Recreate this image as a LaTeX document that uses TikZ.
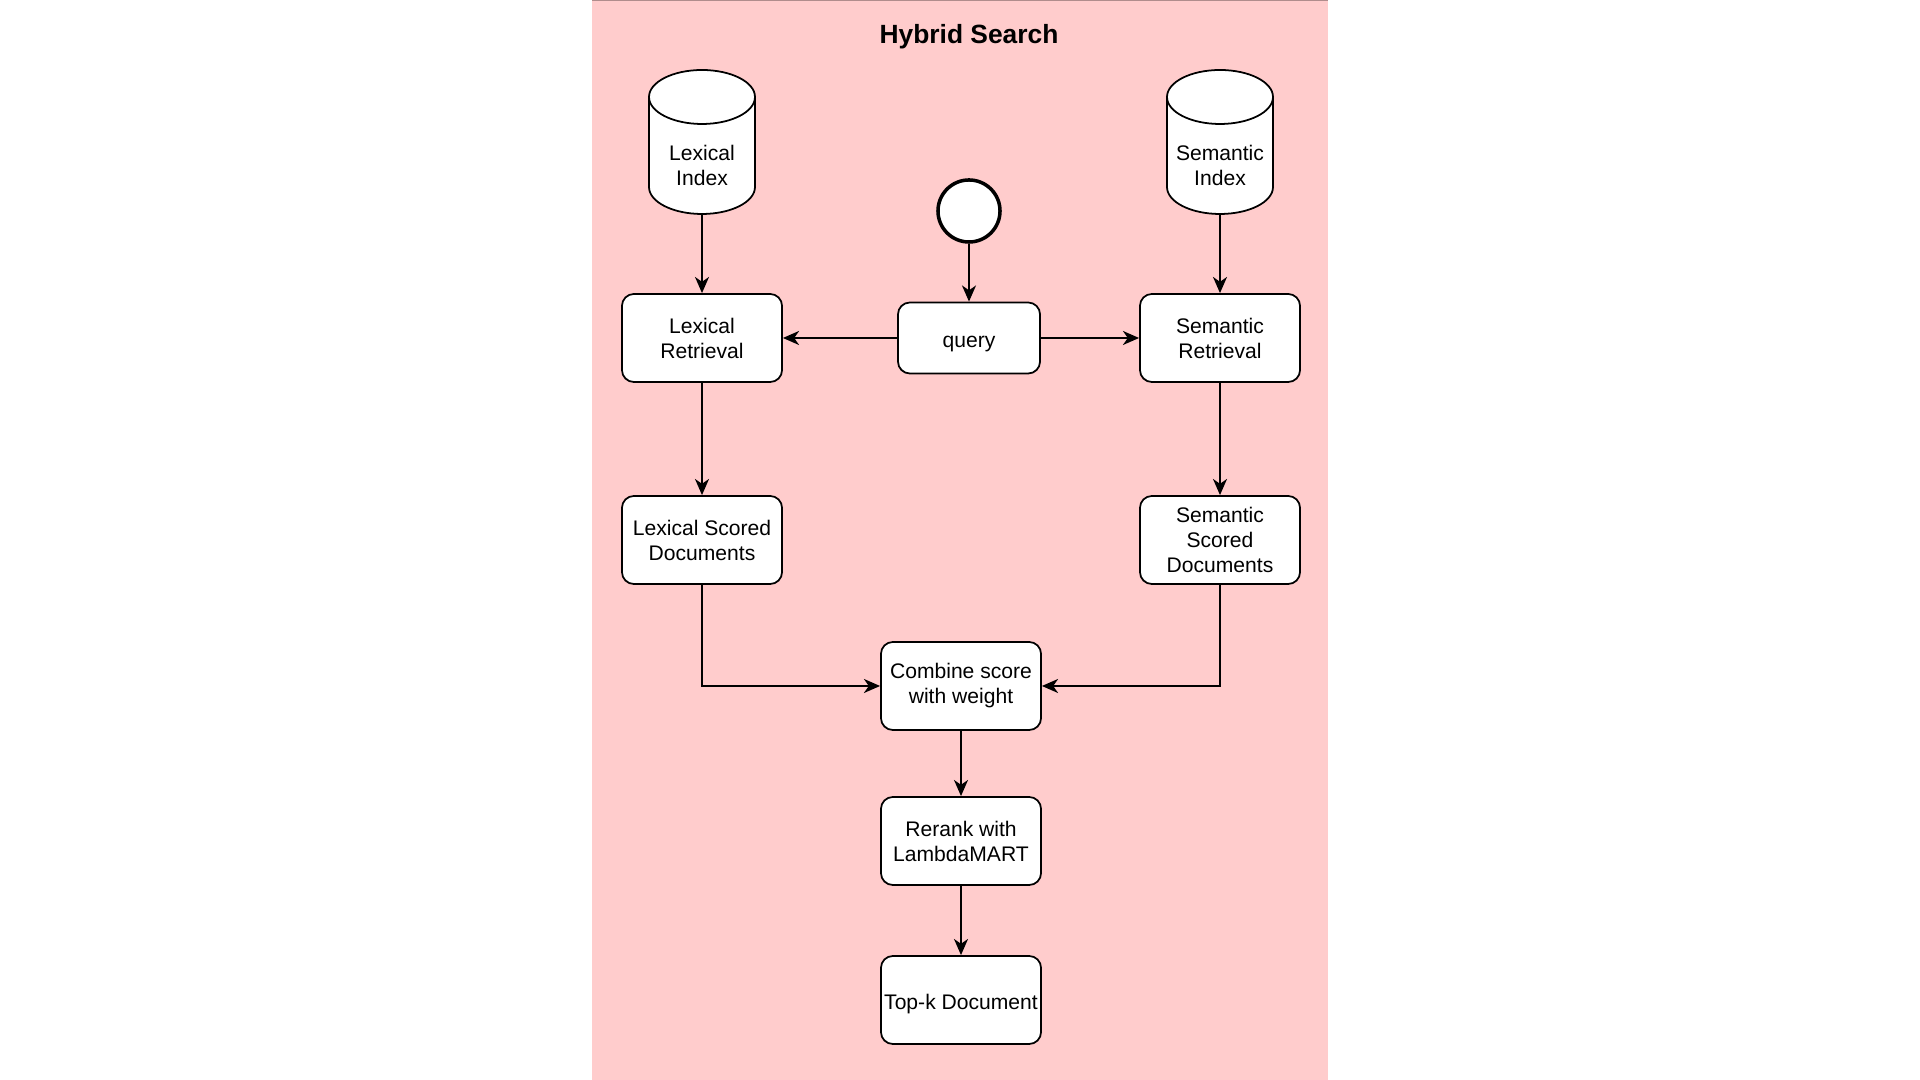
\documentclass[tikz,border=0pt]{standalone}
\usepackage{fontspec}
\setmainfont{Liberation Sans}
\usetikzlibrary{arrows.meta}

\definecolor{panelpink}{HTML}{FFCCCC}
\definecolor{paneledge}{HTML}{B08C8C}

\tikzset{
  box/.style={draw, fill=white, line width=0.5pt, rounded corners=3.4pt,
    align=center, inner sep=0pt, minimum width=1.6cm, minimum height=0.88cm,
    font=\fontsize{6}{7.1}\selectfont},
  oneline/.style={text height=0.77em, text depth=0.25em},
  idxtext/.style={align=center, inner sep=0pt, font=\fontsize{6}{7.1}\selectfont},
  flow/.style={->, line width=0.5pt},
}

\begin{document}
\begin{tikzpicture}[x=0.01cm, y=-0.01cm, >={Stealth[length=4.6pt,width=4pt,inset=1.4pt]}]
  \useasboundingbox (0,0) rectangle (1920,1080);
  \fill[panelpink] (592,0) rectangle (1328,1080);
  \draw[line width=0.5pt, paneledge] (592,0) -- (1328,0);

  \node[oneline, inner sep=0pt, font=\bfseries\fontsize{7.5}{9}\selectfont] (title) at (969,34) {Hybrid Search};

  % Index stores (cylinders)
  \foreach \cx in {702,1220} {
    \draw[line width=0.5pt, fill=white] (\cx-53,97) -- (\cx-53,187)
      arc (180:0:53 and 27) -- (\cx+53,97) arc (0:-180:53 and 27) -- cycle;
    \draw[line width=0.5pt] (\cx-53,97) arc (180:0:53 and 27);
  }
  \node[idxtext] (lexidx) at (702,165) {Lexical\\Index};
  \node[idxtext] (semidx) at (1220,165) {Semantic\\Index};
  \coordinate (lexidxbot) at (702,214);
  \coordinate (semidxbot) at (1220,214);

  % Start and query
  \node[draw, circle, fill=white, line width=1pt, minimum size=0.62cm, inner sep=0pt] (start) at (969,211) {};
  \node[box, oneline, minimum width=1.42cm, minimum height=0.71cm] (query) at (969,338) {query};

  % Retrieval
  \node[box] (lexret) at (702,338) {Lexical\\Retrieval};
  \node[box] (semret) at (1220,338) {Semantic\\Retrieval};
  \node[box] (lexsc) at (702,540) {Lexical Scored\\Documents};
  \node[box] (semsc) at (1220,540) {Semantic\\Scored\\Documents};

  % Fusion and ranking
  \node[box] (combine) at (961,686) {Combine score\\with weight};
  \node[box] (rerank) at (961,841) {Rerank with\\LambdaMART};
  \node[box, oneline] (topk) at (961,1000) {Top-k Document};

  \draw[flow] (lexidxbot) -- (lexret);
  \draw[flow] (semidxbot) -- (semret);
  \draw[flow] (start) -- (query);
  \draw[flow] (query) -- (lexret);
  \draw[flow] (query) -- (semret);
  \draw[flow] (lexret) -- (lexsc);
  \draw[flow] (semret) -- (semsc);
  \draw[flow] (lexsc.south) |- (combine.west);
  \draw[flow] (semsc.south) |- (combine.east);
  \draw[flow] (combine) -- (rerank);
  \draw[flow] (rerank) -- (topk);
\end{tikzpicture}
\end{document}
